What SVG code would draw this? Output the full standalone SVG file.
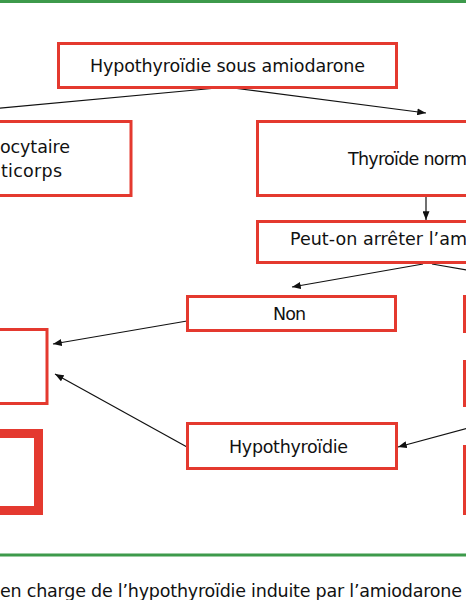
<svg xmlns="http://www.w3.org/2000/svg" width="466" height="600" viewBox="0 0 466 600">
<defs>
<style>
.box{fill:#fff;stroke:#e4392f;stroke-width:3}
.thick{fill:none;stroke:#e4392f;stroke-width:9}
.t{font-family:"DejaVu Sans","Liberation Sans",sans-serif;font-size:17.5px;fill:#111}
.c{stroke:#111;stroke-width:1.2;fill:none}
.rule{stroke:#3d9a4b;stroke-width:3}
</style>
<marker id="a" viewBox="0 0 10 8" refX="10" refY="4" markerWidth="9" markerHeight="7" markerUnits="userSpaceOnUse" orient="auto">
<path d="M0,0 L10,4 L0,8 Z" fill="#111"/>
</marker>
</defs>
<rect width="466" height="600" fill="#fff"/>
<line class="rule" x1="0" y1="1.5" x2="466" y2="1.5"/>
<line class="rule" x1="0" y1="555" x2="466" y2="555"/>

<g id="connectors">
<line class="c" x1="217" y1="88" x2="-10" y2="109"/>
<line class="c" x1="233" y1="88" x2="426" y2="113" marker-end="url(#a)"/>
<line class="c" x1="426" y1="196" x2="426" y2="220" marker-end="url(#a)"/>
<line class="c" x1="423" y1="264" x2="292" y2="287" marker-end="url(#a)"/>
<line class="c" x1="432" y1="264" x2="472" y2="271"/>
<line class="c" x1="187" y1="321" x2="53" y2="344" marker-end="url(#a)"/>
<line class="c" x1="187" y1="447" x2="55" y2="374" marker-end="url(#a)"/>
<line class="c" x1="472" y1="427" x2="398" y2="447" marker-end="url(#a)"/>
</g>

<g id="n-top">
<rect class="box" x="58.5" y="43.5" width="338" height="44"/>
<text class="t" x="90" y="72" textLength="275">Hypothyroïdie sous amiodarone</text>
</g>
<g id="n-left1">
<rect class="box" x="-10" y="121.5" width="141" height="74"/>
<text class="t" x="0" y="153" textLength="70">ocytaire</text>
<text class="t" x="1" y="177" textLength="61">ticorps</text>
</g>
<g id="n-thyro">
<rect class="box" x="257.5" y="121.5" width="230" height="74"/>
<text class="t" x="348" y="165" textLength="119">Thyroïde norm</text>
</g>
<g id="n-peut">
<rect class="box" x="257.5" y="221.5" width="230" height="41"/>
<text class="t" x="290" y="245" textLength="177">Peut-on arrêter l’am</text>
</g>
<g id="n-non">
<rect class="box" x="187.5" y="296.5" width="208" height="34"/>
<text class="t" x="273" y="320" textLength="33">Non</text>
</g>
<g id="n-right1">
<rect class="box" x="464.5" y="296.5" width="30" height="35"/>
</g>
<g id="n-right2">
<rect class="box" x="464.5" y="361.5" width="30" height="44"/>
</g>
<g id="n-right3">
<rect class="box" x="464.5" y="446.5" width="30" height="67"/>
</g>
<g id="n-left2">
<rect class="box" x="-10" y="329.5" width="57" height="74"/>
</g>
<g id="n-hypo">
<rect class="box" x="187.5" y="423.5" width="209" height="45"/>
<text class="t" x="229" y="453" textLength="119">Hypothyroïdie</text>
</g>
<g id="n-left3">
<rect class="thick" x="-10" y="433.5" width="48.5" height="77"/>
</g>
<text class="t" x="0" y="597" textLength="462">en charge de l’hypothyroïdie induite par l’amiodarone</text>
</svg>
